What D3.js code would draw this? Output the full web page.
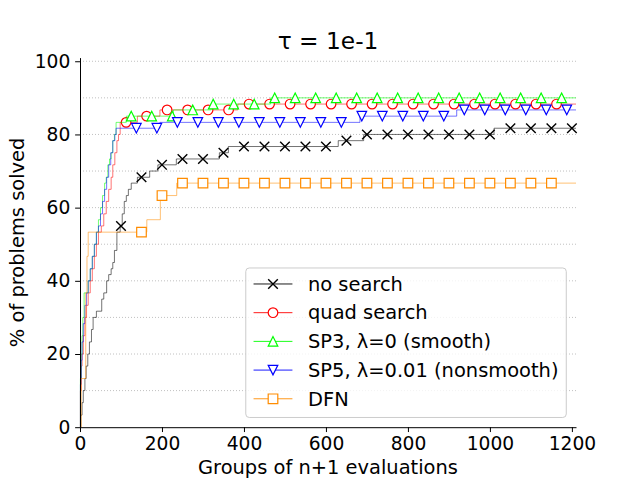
<!DOCTYPE html>
<html lang="en">
<head>
<meta charset="utf-8">
<title>tau = 1e-1</title>
<script src="https://cdnjs.cloudflare.com/ajax/libs/d3/7.8.5/d3.min.js"></script>
<style>
body{margin:0;background:#fff;}
svg{font-family:"DejaVu Sans",sans-serif;}
</style>
</head>
<body>
<script>
// series labels and colours
var names = ["no search", "quad search", "SP3, \u03bb=0 (smooth)", "SP5, \u03bb=0.01 (nonsmooth)", "DFN"];
var colors = ["#000000", "#ff0000", "#00ff00", "#0000ff", "#ff8c00"];
var shapes = ["x", "o", "^", "v", "s"];

// step data (x = groups of n+1 evals, y = % solved)
var noSearchX = [0, 2, 5, 8, 12, 15, 19, 23, 28, 32, 40, 53, 58, 65, 70, 76, 80, 84, 90, 98, 103, 108, 113, 118, 125, 140, 170, 190, 235, 340, 362, 630, 692, 1010];
var noSearchY = [0, 3.3, 6.7, 10, 13.3, 16.7, 20, 23.3, 26.7, 30, 31.7, 35, 36.7, 40, 41.7, 43.3, 45, 48.3, 53.3, 55, 58.3, 61.7, 63.3, 65, 66.7, 68.3, 70, 71.7, 73.3, 75, 76.7, 78.3, 80, 81.7];

var quadX = [0, 1, 3, 5, 8, 12, 16, 20, 25, 30, 35, 40, 45, 52, 58, 64, 70, 76, 80, 85, 90, 94, 98, 140, 195, 385];
var quadY = [0, 10, 16.7, 20, 25, 30, 33.3, 36.7, 40, 43.3, 46.7, 50, 53.3, 55, 58.3, 61.7, 65, 68.3, 71.7, 75, 78.3, 80, 83.3, 85, 86.7, 88.3];

var sp3X = [0, 1, 3, 5, 7, 10, 20, 25, 30, 35, 40, 45, 50, 55, 60, 64, 68, 72, 76, 80, 84, 88, 113, 228, 320, 465];
var sp3Y = [0, 13.3, 20, 25, 30, 36.7, 40, 43.3, 46.7, 50, 53.3, 56.7, 60, 63.3, 66.7, 68.3, 71.7, 73.3, 75, 78.3, 80, 83.3, 85, 86.7, 88.3, 90];

var sp5X = [0, 1, 3, 5, 8, 12, 16, 20, 25, 30, 35, 40, 45, 50, 55, 60, 65, 70, 75, 80, 85, 88, 195, 683, 919];
var sp5Y = [0, 11.7, 18.3, 23.3, 28.3, 33.3, 36.7, 40, 43.3, 46.7, 50, 53.3, 55, 58.3, 61.7, 65, 68.3, 71.7, 75, 78.3, 80, 81.7, 83.3, 85, 86.7];

var dfnX = [0, 3, 14, 17, 20, 163, 196, 236];
var dfnY = [0, 13.3, 36.7, 46.7, 53.3, 56.7, 63.3, 66.7];

// where the markers sit (every 50 groups)
var markerStart = [100, 112.5, 125, 137.5, 150];
var markerLast = [1200, 1162.5, 1175, 1187.5, 1150];
var markerStep = 50;

var xTicks = [0, 200, 400, 600, 800, 1000, 1200];
var yTicks = [0, 20, 40, 60, 80, 100];
var gridTicks = [10, 20, 30, 40, 50, 60, 70, 80, 90, 100];

var xs = [noSearchX, quadX, sp3X, sp5X, dfnX];
var ys = [noSearchY, quadY, sp3Y, sp5Y, dfnY];

function drawChart(){
    var w = 640, h = 480;
    var pLeft = 80, pRight = 576, pTop = 57.6, pBottom = 427.2;
    var fs = 19.44;      // 14pt at 100 dpi
    var tickFs = 18.67;
    var xMax = 1210;

    var svg = d3.select("body").append("svg")
        .attr("width", w)
        .attr("height", h);

    var x = d3.scaleLinear().domain([0, xMax]).range([pLeft, pRight]);
    var y = d3.scaleLinear().domain([0, 101]).range([pBottom, pTop]);

    // grid (horizontal dotted only)
    svg.append("g").selectAll("line")
        .data(gridTicks)
        .enter().append("line")
        .attr("x1", pLeft).attr("x2", pRight)
        .attr("y1", function(d){ return y(d); })
        .attr("y2", function(d){ return y(d); })
        .attr("stroke", "#b0b0b0")
        .attr("stroke-width", 0.8)
        .attr("stroke-dasharray", "1,2");

    // marker path for one shape, centred on 0,0
    var ms = 4.8;
    function markerPath(s){
        if (s == "x") return "M" + (-ms) + "," + (-ms) + "L" + ms + "," + ms + "M" + (-ms) + "," + ms + "L" + ms + "," + (-ms);
        if (s == "^") return "M0," + (-ms) + "L" + (-ms) + "," + ms + "L" + ms + "," + ms + "Z";
        if (s == "v") return "M0," + ms + "L" + (-ms) + "," + (-ms) + "L" + ms + "," + (-ms) + "Z";
        if (s == "s") return "M" + (-ms) + "," + (-ms) + "H" + ms + "V" + ms + "H" + (-ms) + "Z";
        return "M" + ms + ",0A" + ms + "," + ms + " 0 1,1 " + (-ms) + ",0A" + ms + "," + ms + " 0 1,1 " + ms + ",0Z";
    }

    function drawMarker(g, s, c, px, py){
        g.append("path")
            .attr("d", markerPath(s))
            .attr("transform", "translate(" + px + "," + py + ")")
            .attr("fill", s == "x" ? "none" : "#fff")
            .attr("stroke", c)
            .attr("stroke-width", s == "x" ? 1.4 : 1.2);
    }

    var line = d3.line()
        .x(function(d){ return x(d[0]); })
        .y(function(d){ return y(d[1]); })
        .curve(d3.curveStepAfter);

    var plot = svg.append("g");

    for (var i = 0; i < names.length; i++) {
        var sx = xs[i], sy = ys[i];
        var pts = sx.map(function(v, j){ return [v, sy[j]]; });
        pts.push([xMax, sy[sy.length - 1]]);

        var g = plot.append("g");
        g.append("path")
            .datum(pts)
            .attr("d", line)
            .attr("fill", "none")
            .attr("stroke", colors[i])
            .attr("stroke-opacity", 0.55)
            .attr("stroke-width", 1);

        // markers on the step curve
        var mx = d3.range(markerStart[i], markerLast[i] + 1, markerStep);
        for (var k = 0; k < mx.length; k++) {
            var idx = d3.bisectRight(sx, mx[k]) - 1;
            drawMarker(g, shapes[i], colors[i], x(mx[k]), y(sy[idx]));
        }
    }

    // axes
    svg.append("g")
        .attr("transform", "translate(0," + pBottom + ")")
        .call(d3.axisBottom(x).tickValues(xTicks).tickFormat(d3.format("d"))
            .tickSize(4.86).tickSizeOuter(0).tickPadding(4.86));
    svg.append("g")
        .attr("transform", "translate(" + pLeft + ",0)")
        .call(d3.axisLeft(y).tickValues(yTicks).tickFormat(d3.format("d"))
            .tickSize(4.86).tickSizeOuter(0).tickPadding(4.86));

    svg.selectAll(".tick text")
        .attr("font-size", tickFs)
        .attr("font-family", "DejaVu Sans")
        .attr("fill", "#000");
    svg.selectAll(".domain, .tick line")
        .attr("stroke", "#000")
        .attr("stroke-width", 1);

    // titles
    svg.append("text")
        .attr("x", (pLeft + pRight) / 2)
        .attr("y", 49.3)
        .attr("text-anchor", "middle")
        .attr("font-size", 23.3)
        .text("\u03c4 = 1e-1");

    svg.append("text")
        .attr("x", (pLeft + pRight) / 2)
        .attr("y", 474)
        .attr("text-anchor", "middle")
        .attr("font-size", fs)
        .text("Groups of n+1 evaluations");

    svg.append("text")
        .attr("transform", "translate(23.5," + ((pTop + pBottom) / 2) + ") rotate(-90)")
        .attr("text-anchor", "middle")
        .attr("font-size", fs)
        .text("% of problems solved");

    // legend, lower right
    var pad = 0.4 * fs, handleLen = 2 * fs, textPad = 0.8 * fs;
    var legRight = pRight - 0.5 * fs, legBottom = pBottom - 0.5 * fs, legH = 149.5;
    var legTop = legBottom - legH;
    var leg = svg.append("g");
    var box = leg.append("rect");
    var texts = [];
    for (var i = 0; i < names.length; i++) {
        texts.push(leg.append("text")
            .attr("font-size", fs)
            .attr("dy", "0.35em")
            .text(names[i]));
    }
    var maxW = d3.max(texts, function(t){ return t.node().getComputedTextLength(); });
    var legW = pad + handleLen + textPad + maxW + pad;
    var legLeft = legRight - legW;

    box.attr("x", legLeft).attr("y", legTop)
        .attr("width", legW).attr("height", legH)
        .attr("rx", 3.5)
        .attr("fill", "#fff").attr("fill-opacity", 0.8)
        .attr("stroke", "#cccccc").attr("stroke-width", 1);

    for (var i = 0; i < names.length; i++) {
        var cy = legTop + 16 + i * 28.7;
        leg.append("line")
            .attr("x1", legLeft + pad).attr("x2", legLeft + pad + handleLen)
            .attr("y1", cy).attr("y2", cy)
            .attr("stroke", colors[i]).attr("stroke-width", 0.9);
        drawMarker(leg, shapes[i], colors[i], legLeft + pad + handleLen / 2, cy);
        texts[i].attr("x", legLeft + pad + handleLen + textPad).attr("y", cy);
    }
}

drawChart();
</script>
</body>
</html>
